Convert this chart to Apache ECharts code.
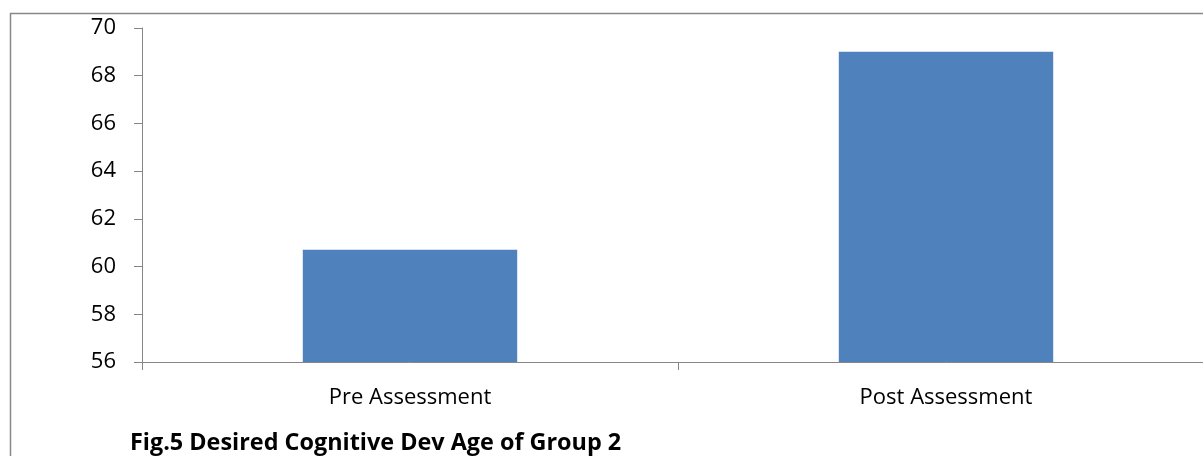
<!DOCTYPE html>
<html>
<head>
<meta charset="utf-8">
<script src="https://cdn.jsdelivr.net/npm/echarts@6/dist/echarts.min.js"></script>
<style>
  html, body { margin: 0; padding: 0; background: #fff; overflow: hidden; }
  /* the canvas is wider than the page so the plot runs on past the right edge */
  #chart { width: 1240px; height: 456px; }
</style>
</head>
<body>
<div id="chart"></div>
<script>
// Mean cognitive development age, Group 2
const categories = ['Pre Assessment', 'Post Assessment'];
const values = [60.7, 69.0];
const yTicks = { min: 56, max: 70, step: 2 };
const caption = 'Fig.5 Desired Cognitive Dev Age of Group 2';

const chart = echarts.init(document.getElementById('chart'), null, { renderer: 'canvas' });
const font = '"Open Sans", "Noto Sans", sans-serif';
const axisGray = '#868686';

chart.setOption({
  animation: false,
  backgroundColor: '#ffffff',
  grid: { left: 142, width: 1072, top: 28, bottom: 94, containLabel: false, outerBoundsMode: 'none' },
  xAxis: {
    type: 'category',
    data: categories,
    axisLine: { lineStyle: { color: axisGray, width: 1 } },
    axisTick: { show: true, length: 8, lineStyle: { color: axisGray } },
    axisLabel: { color: '#000', fontFamily: font, fontSize: 22, margin: 25 },
    splitLine: { show: false }
  },
  yAxis: {
    type: 'value',
    min: yTicks.min,
    max: yTicks.max,
    interval: yTicks.step,
    axisLine: { show: true, lineStyle: { color: axisGray, width: 1 } },
    axisTick: { show: true, length: 8, lineStyle: { color: axisGray } },
    axisLabel: { color: '#000', fontFamily: font, fontSize: 22, margin: 26 },
    splitLine: { show: false }
  },
  series: [{
    type: 'bar',
    data: values,
    barWidth: '40%',
    itemStyle: { color: '#4F81BD' }
  }],
  graphic: [
    {
      type: 'rect',
      left: 8, top: 11,
      shape: { width: 1400, height: 600 },
      style: { fill: 'none', stroke: '#888888', lineWidth: 1.5 },
      silent: true
    },
    {
      type: 'text',
      left: 130, top: 432,
      style: { text: caption, fontFamily: font, fontSize: 23.4, fontWeight: 'bold', fill: '#000' }
    }
  ]
});
</script>
</body>
</html>
